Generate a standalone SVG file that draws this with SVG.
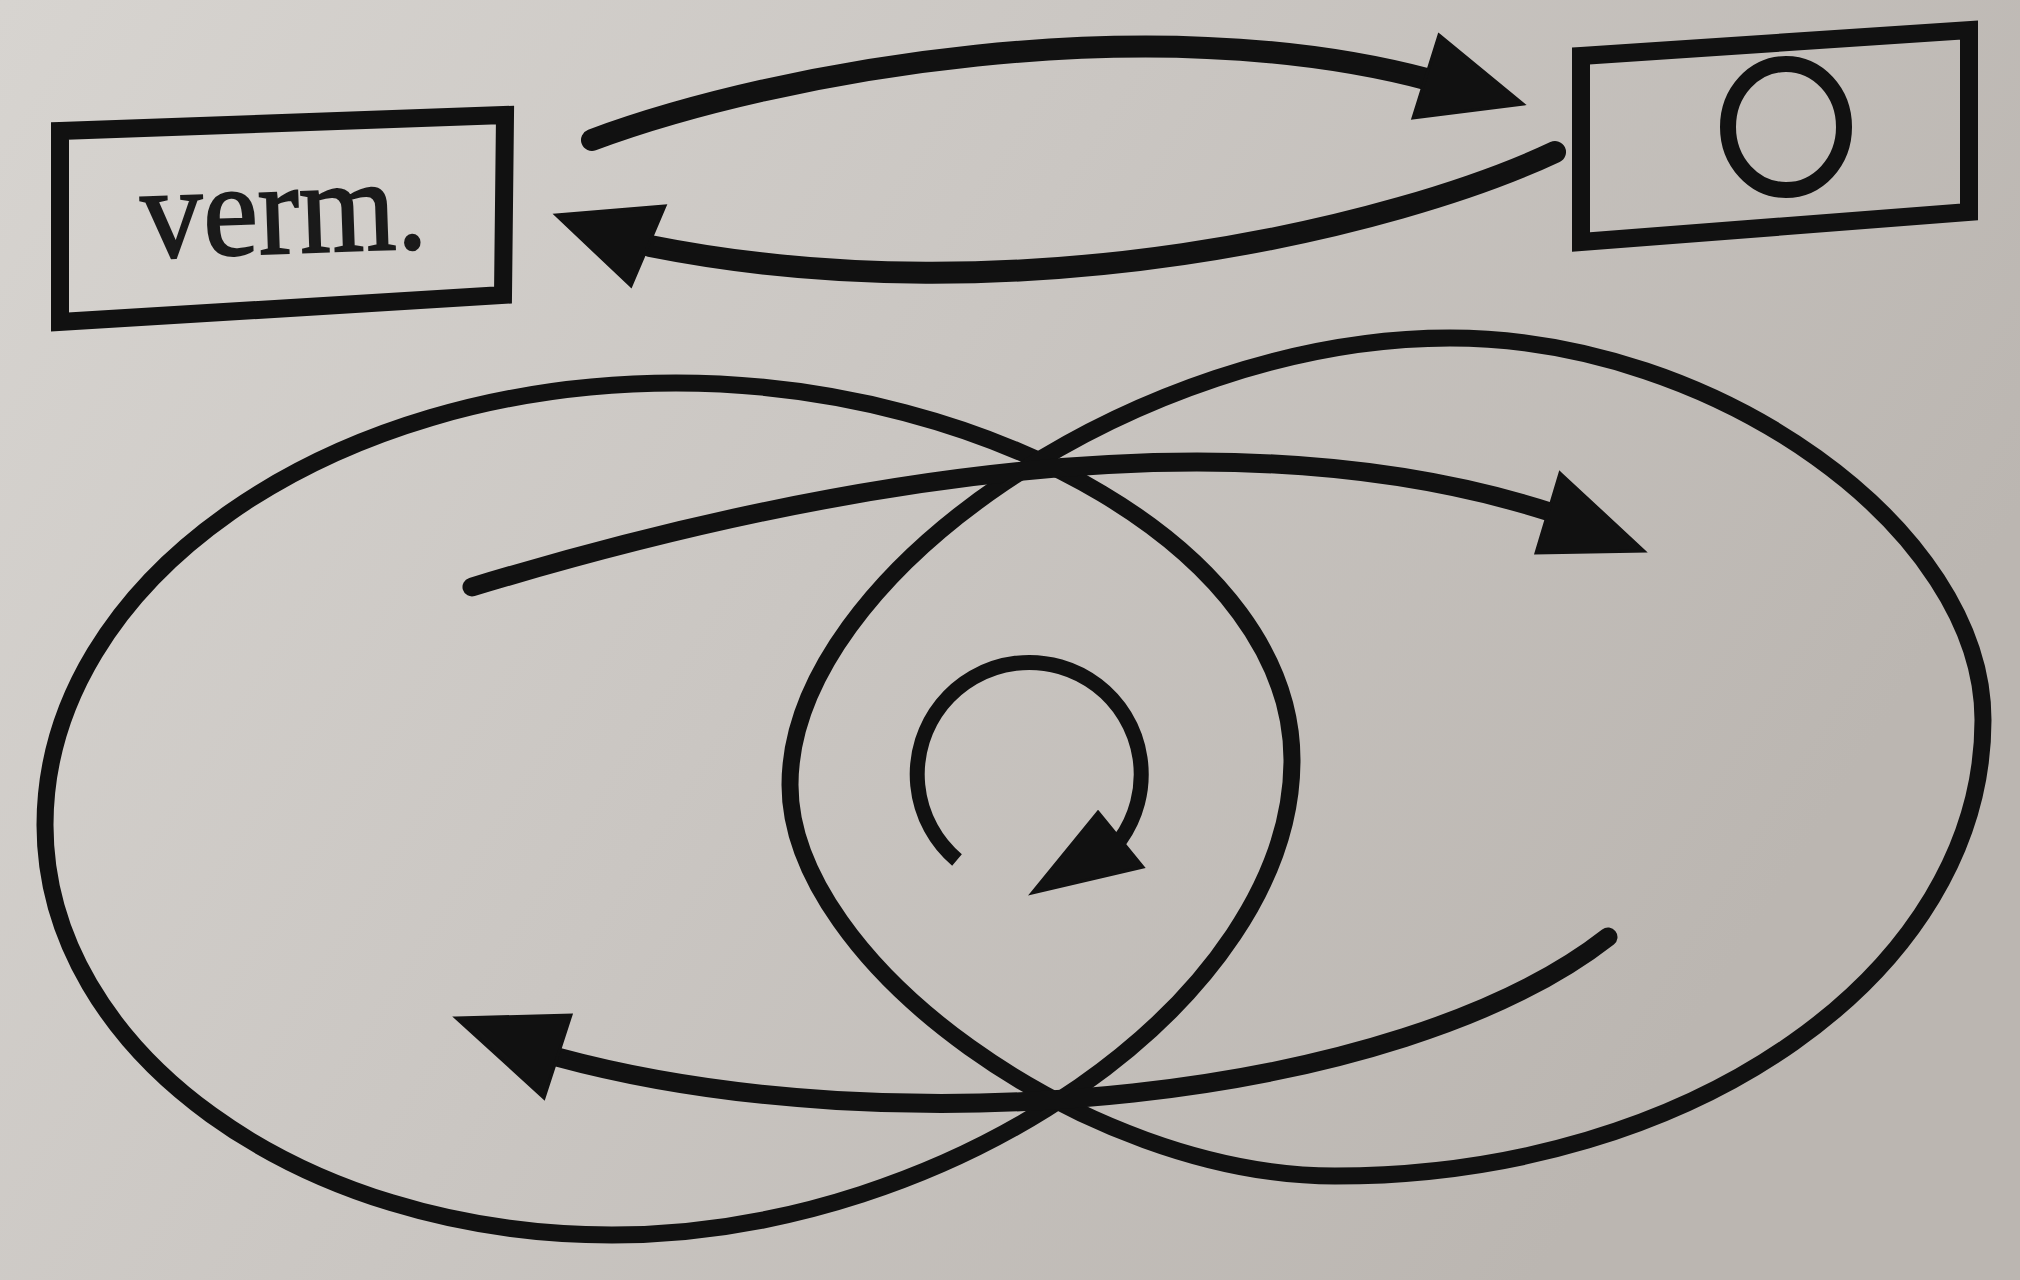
<svg xmlns="http://www.w3.org/2000/svg" width="2020" height="1280" viewBox="0 0 2020 1280">
  <defs>
    <linearGradient id="paper" x1="0" y1="0" x2="1" y2="0.4">
      <stop offset="0" stop-color="#d7d4d0"/>
      <stop offset="0.5" stop-color="#cac6c2"/>
      <stop offset="1" stop-color="#bbb6b1"/>
    </linearGradient>
    <style>
      .box { fill: none; stroke: #111; stroke-width: 18; stroke-linejoin: miter; }
      .ring { fill: none; stroke: #111; stroke-width: 16; }
      .loop { fill: none; stroke: #111; stroke-width: 17; }
      .flow { fill: none; stroke: #111; stroke-width: 22; stroke-linecap: round; }
      .inner { fill: none; stroke: #111; stroke-width: 19; stroke-linecap: round; }
      .turn { fill: none; stroke: #111; stroke-width: 15; stroke-linecap: butt; }
      .head { fill: #111; stroke: #111; stroke-width: 3; stroke-linejoin: miter; }
      .label { font-family: "Liberation Serif", "Times New Roman", serif; font-size: 132px; fill: #1a1a1a; stroke: #1a1a1a; stroke-width: 2; }
    </style>
  </defs>
  <rect x="0" y="0" width="2020" height="1280" fill="url(#paper)"/>

  <g id="node-verm">
    <polygon class="box" points="60,131 505,115 503,295 60,322"/>
    <text class="label" x="142" y="253" textLength="286" lengthAdjust="spacingAndGlyphs" transform="rotate(-2 285 250)">verm.</text>
  </g>

  <g id="node-circle-box">
    <polygon class="box" points="1581,56 1969,30 1969,212 1581,242"/>
    <ellipse class="ring" cx="1786" cy="127" rx="58" ry="63"/>
  </g>

  <g id="node-left-loop">
    <path class="loop" d="M676,383 C990,383 1292,552 1292,760 C1292,998 952,1235 612,1235 C299,1235 45,1051 45,825 C45,581 328,383 676,383 Z"/>
  </g>

  <g id="node-right-loop">
    <path class="loop" d="M790,785 C790,575 1140,338 1450,338 C1716,338 1983,529 1983,720 C1983,972 1693,1176 1335,1176 C1087,1176 790,963 790,785 Z"/>
  </g>

  <g id="connectors">
    <path class="flow" d="M592,140 C780,70 1150,5 1430,80"/>
    <polygon class="head" points="1439,35 1523,104 1413,118"/>

    <path class="flow" d="M1555,152 C1400,225 1020,320 650,246"/>
    <polygon class="head" points="556,215 665,206 631,286"/>

    <path class="inner" d="M472,587 C760,500 1200,400 1550,512"/>
    <polygon class="head" points="1560,473 1644,551 1536,553"/>

    <path class="inner" d="M1608,937 C1400,1100 900,1150 557,1057"/>
    <polygon class="head" points="456,1018 571,1015 544,1098"/>

    <path class="turn" d="M957,860 A112,112 0 1 1 1120,840"/>
    <polygon class="head" points="1098,812 1143,867 1032,893"/>
  </g>
</svg>
